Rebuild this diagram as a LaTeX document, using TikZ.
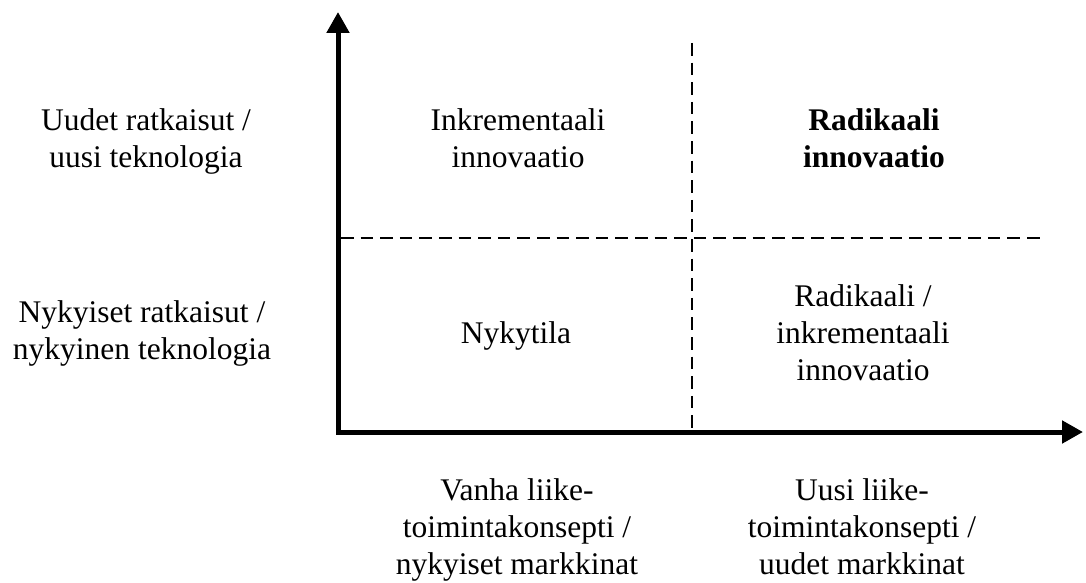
\documentclass[tikz,border=0pt]{standalone}
\usepackage{fontspec}
\setmainfont{Liberation Serif}
\usetikzlibrary{arrows.meta}
% every line carries a strut so the node top sits a fixed distance above the first baseline
\newcommand{\rowstrut}{\strut}
\begin{document}
\begin{tikzpicture}[x=1pt,y=-1pt,
  lbl/.style={font=\fontsize{31.5}{37}\selectfont, align=center, inner sep=0pt, anchor=north},
  axis/.style={line width=5pt, line join=miter,
    {Triangle[length=21pt,width=22pt]}-{Triangle[length=21pt,width=22pt]}},
  divider/.style={line width=1.5pt, dash pattern=on 12.6pt off 7pt}]
\useasboundingbox (0,0) rectangle (1086,583);
% axes
\coordinate (O) at (338,432);
\coordinate (ytip) at (338,12);
\coordinate (xtip) at (1083,432);
\draw[axis] (ytip) -- (O) -- (xtip);
% quadrant dividers
\coordinate (vtop) at (692,43);
\coordinate (vbot) at (692,430);
\coordinate (hleft) at (341,238);
\coordinate (hright) at (1041,238);
\draw[divider] (vtop) -- (vbot);
\draw[divider] (hleft) -- (hright);
% node tops = first baseline - 25.9
% vertical axis labels
\node[lbl] (ynew) at (146,104.1) {\rowstrut Uudet ratkaisut /\\\rowstrut uusi teknologia};
\node[lbl] (ycur) at (142,296.1) {\rowstrut Nykyiset ratkaisut /\\\rowstrut nykyinen teknologia};
% quadrants
\node[lbl] (q1) at (518,104.1) {\rowstrut Inkrementaali\\\rowstrut innovaatio};
\node[lbl, font=\fontsize{31.5}{37}\selectfont\bfseries] (q2) at (874,104.1) {\rowstrut Radikaali\\\rowstrut innovaatio};
\node[lbl] (q3) at (516,317.1) {\rowstrut Nykytila};
\node[lbl] (q4) at (863,280.1) {\rowstrut Radikaali /\\\rowstrut inkrementaali\\\rowstrut innovaatio};
% horizontal axis labels
\node[lbl] (xold) at (517,474.1) {\rowstrut Vanha liike-\\\rowstrut toimintakonsepti /\\\rowstrut nykyiset markkinat};
\node[lbl] (xnew) at (862,474.1) {\rowstrut Uusi liike-\\\rowstrut toimintakonsepti /\\\rowstrut uudet markkinat};
\end{tikzpicture}
\end{document}
